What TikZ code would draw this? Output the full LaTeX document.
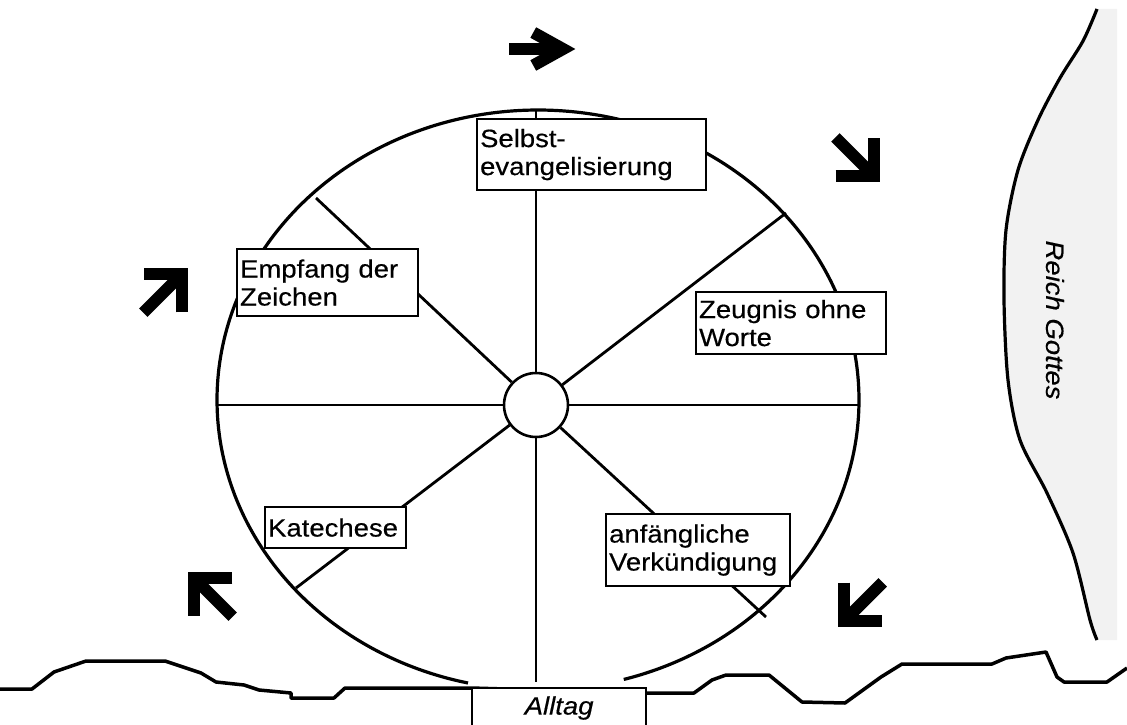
\documentclass[tikz,border=0pt]{standalone}
\usepackage{fontspec}
\setmainfont{Liberation Sans}[FakeStretch=1.1, FakeBold=0.4]
\begin{document}
\begin{tikzpicture}[x=1pt,y=-1pt,
  wheel/.style={line width=3.2pt},
  spoke/.style={line width=2.8pt},
  lbl/.style={draw, line width=2.2pt, fill=white, anchor=north west, inner xsep=3pt, inner ysep=2pt, align=left, font=\fontsize{25}{28}\selectfont},
  ground/.style={line width=3.5pt, line join=round},
  pics/barrow/.style 2 args={code={
    \draw[line width=12pt] (-32,0) -- (20,0);
    \draw[line width=12pt, line join=miter, miter limit=20] (22,0) ++(180-#1:#2) -- (22,0) -- ++(180+#1:#2);
  }}]
\useasboundingbox (0,0) rectangle (1127,725);
% Reich Gottes region
\fill[black!5] plot[smooth] coordinates {(1097,9) (1083,41) (1060,78) (1038,120) (1018,170) (1006,230) (1004,300) (1008,380) (1020,440) (1047,493) (1073,553) (1090,620) (1097,640)} -- (1117,640) -- (1117,9) -- cycle;
\draw[line width=3.2pt] plot[smooth] coordinates {(1097,9) (1083,41) (1060,78) (1038,120) (1018,170) (1006,230) (1004,300) (1008,380) (1020,440) (1047,493) (1073,553) (1090,620) (1097,640)};
\node[rotate=-90, font=\fontsize{25}{28}\selectfont\itshape] (rg) at (1055,320) {Reich Gottes};
% ground
\draw[ground] (0,689) -- (32,689) -- (54,672) -- (86,661) -- (165,661) -- (201,673) -- (216,682) -- (244,685) -- (259,690) -- (291,693) -- (291,698) -- (334,698) -- (345,688) -- (471,688) -- (645,693) -- (694,693) -- (712,680) -- (726,675) -- (769,675) -- (802,702) -- (845,703) -- (881,677) -- (902,664) -- (992,664) -- (1006,658) -- (1046,652) -- (1057,677) -- (1064,682) -- (1107,682) -- (1127,668);
% wheel
\draw[wheel] plot[domain=102.6:434.5, samples=200, smooth] ({538+321*cos(\x)},{400+290*sin(\x)});
\node[circle, draw, line width=2.6pt, minimum size=64pt, inner sep=0pt, fill=white] (hub) at (536,405) {};
\coordinate (ctop) at (536,110);
\coordinate (cbot) at (536,682);
\coordinate (cleft) at (217,405);
\coordinate (cright) at (860,405);
\coordinate (eul) at (316,198);
\coordinate (eur) at (786,213);
\coordinate (ell) at (296,588);
\coordinate (elr) at (766,617);
\foreach \e in {ctop,cbot,cleft,cright,eul,eur,ell,elr} \draw[spoke] (hub) -- (\e);
% labels
\node[lbl, text width=223pt, minimum height=71pt] (selbst) at (476,118) {Selbst-\\evangelisierung};
\node[lbl, text width=175pt, minimum height=67pt] (empf) at (236,248) {Empfang der\\Zeichen};
\node[lbl, text width=184pt, minimum height=62pt] (zeug) at (695,291) {Zeugnis ohne\\Worte};
\node[lbl, text width=135pt, minimum height=41pt] (kat) at (264,506) {Katechese};
\node[lbl, text width=178pt, minimum height=72pt] (anf) at (605,513) {anfängliche\\Verkündigung};
\node[lbl, text width=168pt, minimum height=40pt, align=center, font=\fontsize{25}{28}\selectfont\itshape] (alltag) at (471,687) {Alltag};
% arrows
\pic at (541,49) {barrow={29}{34}};
\pic[rotate=-45] at (858,160) {barrow={45}{38}};
\pic[rotate=45] at (166,290) {barrow={45}{38}};
\pic[rotate=135] at (210,594) {barrow={45}{38}};
\pic[rotate=-135] at (860,605) {barrow={45}{38}};
\end{tikzpicture}
\end{document}
